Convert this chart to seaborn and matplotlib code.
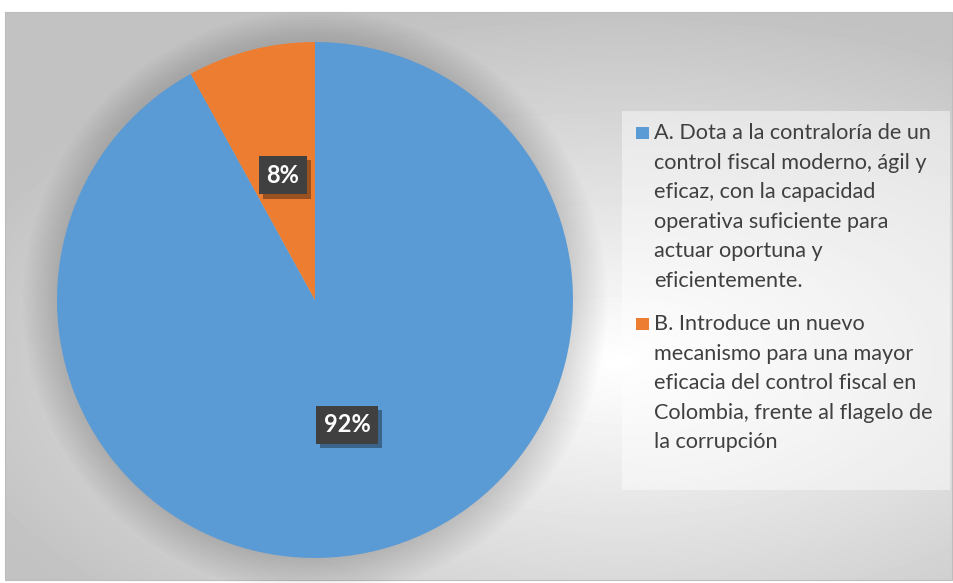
import numpy as np
import matplotlib
matplotlib.use("Agg")
import matplotlib.pyplot as plt
import matplotlib.patheffects as pe
from matplotlib.patches import Rectangle, Circle
import seaborn as sns

# datos del gráfico
etiquetas = [
    "A. Dota a la contraloría de un\ncontrol fiscal moderno, ágil y\neficaz, con la capacidad\noperativa suficiente para\nactuar oportuna y\neficientemente.",
    "B. Introduce un nuevo\nmecanismo para una mayor\neficacia del control fiscal en\nColombia, frente al flagelo de\nla corrupción",
]
porcentajes = [92, 8]
colores = ["#5B9BD5", "#ED7D31"]

sns.set_theme(style="white")
plt.rcParams['font.family'] = ['Lato', 'DejaVu Sans']

W, H = 954, 583
fig = plt.figure(figsize=(W / 100, H / 100), dpi=100)
fig.patch.set_facecolor("white")

# fondo con degradado radial
bg = fig.add_axes([0, 0, 1, 1])
bg.set_xlim(0, W)
bg.set_ylim(H, 0)
bg.axis("off")
xx, yy = np.meshgrid(np.arange(5, 952), np.arange(12, 580))
d = np.sqrt(((xx - 620) / 680.0) ** 2 + ((yy - 360) / 340.0) ** 2)
gris = 1 - 0.23 * np.clip(d, 0, 1.05)
bg.imshow(gris, cmap="gray", vmin=0, vmax=1, extent=(5, 952, 580, 12),
          interpolation="bilinear", aspect="auto", zorder=0)
bg.add_patch(Rectangle((5, 12), 947, 568, fill=False, ec="#BDBDBD", lw=0.8, zorder=1))
# cuadro de la leyenda
bg.add_patch(Rectangle((622, 111), 328, 379, fc="white", ec="none", alpha=0.45, zorder=1))

# pastel
cx, cy, r = 315, 300, 258
lim = 1.2
ax = fig.add_axes([(cx - lim * r) / W, (H - cy - lim * r) / H, 2 * lim * r / W, 2 * lim * r / H])
ax.axis("off")

# sombra difusa alrededor del pastel
for k in range(12):
    ax.add_patch(Circle((0, -0.01), 1.0 + 0.012 * k, fc="black", ec="none", alpha=0.012, zorder=0))

wedges, _, autotexts = ax.pie(
    porcentajes, colors=colores, startangle=90, counterclock=False,
    autopct="%1.0f%%", pctdistance=0.5, radius=1.0,
    wedgeprops=dict(linewidth=0), textprops=dict(color="white", fontsize=17, fontweight="bold"),
)
ax.set_xlim(-lim, lim)
ax.set_ylim(-lim, lim)
for w in wedges:
    w.set_zorder(2)
for t in autotexts:
    t.set_zorder(5)
    t.set_bbox(dict(boxstyle="square,pad=0.33", fc="#404040", ec="none"))
    t.get_bbox_patch().set_path_effects([
        pe.SimplePatchShadow(offset=(3, -3), shadow_rgbFace="black", alpha=0.35),
        pe.Normal()])

# leyenda a la derecha
primeras = [139, 330]
paso = 29.6
for etiqueta, color, base in zip(etiquetas, colores, primeras):
    bg.add_patch(Rectangle((636, base - 12), 13, 12, fc=color, ec="none", zorder=3))
    for i, linea in enumerate(etiqueta.split("\n")):
        bg.text(654, base + i * paso, linea, fontsize=15.6, color="#404040",
                va="baseline", ha="left", zorder=3)

fig.savefig("out.png", dpi=100)
